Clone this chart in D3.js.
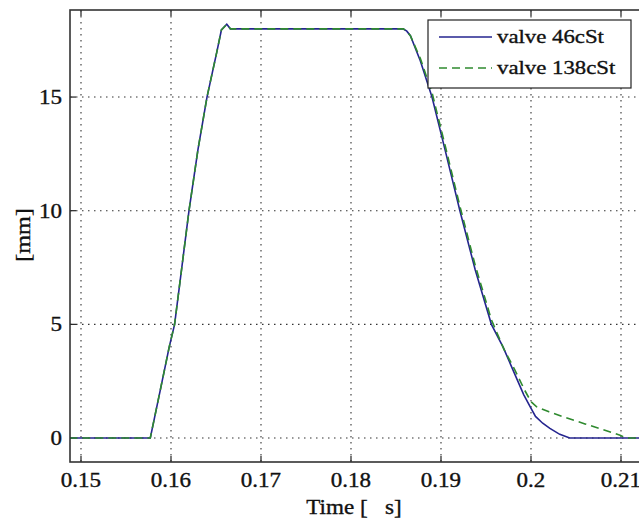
<!DOCTYPE html>
<html>
<head>
<meta charset="utf-8">
<script src="https://cdn.jsdelivr.net/npm/d3@7"></script>
<style>
  body { margin: 0; background: #fff; }
  svg { display: block; }
  text { font-family: "Liberation Serif", "Times New Roman", serif; fill: #111; stroke: #111; stroke-width: 0.35; white-space: pre; }
</style>
</head>
<body>
<svg width="639" height="520"></svg>
<script>
const xTicks = [0.15, 0.16, 0.17, 0.18, 0.19, 0.2, 0.21];
const yTicks = [0, 5, 10, 15];
const seriesNames = ["valve 46cSt", "valve 138cSt"];

const time46 = [0.1487, 0.1577, 0.1587, 0.1598, 0.1604, 0.1612, 0.1620, 0.1630, 0.1640, 0.1651, 0.1656, 0.1662, 0.1666, 0.1670,
  0.1858, 0.1862, 0.1866, 0.1877, 0.1890, 0.1905, 0.1921, 0.1938, 0.1956, 0.1969, 0.1981, 0.1992, 0.1999,
  0.2005, 0.2013, 0.2021, 0.2032, 0.2043, 0.2125];
const valve46 = [0, 0, 1.9, 4.0, 5.0, 7.5, 10.0, 12.7, 15.0, 17.0, 17.95, 18.2, 18.0, 18.0,
  18.0, 17.9, 17.7, 16.6, 15.0, 12.6, 10.0, 7.4, 5.0, 4.0, 2.9, 1.9, 1.38,
  0.95, 0.65, 0.42, 0.16, 0, 0];

const time138 = [0.1487, 0.1577, 0.1587, 0.1598, 0.1604, 0.1612, 0.1620, 0.1630, 0.1640, 0.1651, 0.1656, 0.1662, 0.1666, 0.1670,
  0.1858, 0.1862, 0.1866, 0.1877, 0.1890, 0.1905, 0.1921, 0.1938, 0.1956, 0.1970, 0.1982, 0.1993, 0.2000,
  0.2006, 0.2020, 0.2040, 0.2060, 0.2080, 0.2099, 0.2106, 0.2125];
const valve138 = [0, 0, 1.9, 4.0, 5.0, 7.5, 10.0, 12.7, 15.0, 17.0, 17.95, 18.2, 18.0, 18.0,
  18.0, 17.9, 17.7, 16.7, 15.2, 12.8, 10.2, 7.6, 5.2, 3.9, 3.0, 2.1, 1.6,
  1.38, 1.15, 0.88, 0.62, 0.37, 0.12, 0, 0];

const svg = d3.select("svg");
const plotLeft = 70, plotRight = 646, plotTop = 10, plotBottom = 462;

const x = d3.scaleLinear().domain([0.148778, 0.212778]).range([plotLeft, plotRight]);
const y = d3.scaleLinear().domain([-1.056, 18.83]).range([plotBottom, plotTop]);

// stretched serif text like the original export
function label(g, px, py, str, size, anchor, sx) {
  return g.append("text")
    .attr("transform", `translate(${px},${py}) scale(${sx},1)`)
    .attr("text-anchor", anchor)
    .style("font-size", size + "px")
    .text(str);
}

svg.append("defs").append("clipPath").attr("id", "clip")
  .append("rect").attr("x", plotLeft).attr("y", plotTop)
  .attr("width", plotRight - plotLeft).attr("height", plotBottom - plotTop);

// grid
const grid = svg.append("g").attr("stroke", "#333").attr("stroke-width", 1.1).attr("stroke-dasharray", "1.5,4.5");
grid.selectAll(".gx").data(xTicks).join("line")
  .attr("x1", d => x(d)).attr("x2", d => x(d)).attr("y1", plotTop).attr("y2", plotBottom);
grid.selectAll(".gy").data(yTicks).join("line")
  .attr("x1", plotLeft).attr("x2", plotRight).attr("y1", d => y(d)).attr("y2", d => y(d));

// ticks inside
const ticks = svg.append("g").attr("stroke", "#222").attr("stroke-width", 1.2);
xTicks.forEach(t => {
  ticks.append("line").attr("x1", x(t)).attr("x2", x(t)).attr("y1", plotBottom).attr("y2", plotBottom - 6);
  ticks.append("line").attr("x1", x(t)).attr("x2", x(t)).attr("y1", plotTop).attr("y2", plotTop + 6);
});
yTicks.forEach(t => {
  ticks.append("line").attr("x1", plotLeft).attr("x2", plotLeft + 6).attr("y1", y(t)).attr("y2", y(t));
});

// data lines
const line = d3.line().x(d => x(d[0])).y(d => y(d[1]));
const plot = svg.append("g").attr("clip-path", "url(#clip)");
plot.append("path")
  .datum(d3.zip(time46, valve46))
  .attr("fill", "none").attr("stroke", "#25258f").attr("stroke-width", 1.6)
  .attr("d", line);
plot.append("path")
  .datum(d3.zip(time138, valve138))
  .attr("fill", "none").attr("stroke", "#2f8a2f").attr("stroke-width", 1.6)
  .attr("stroke-dasharray", "8,5")
  .attr("d", line);

// frame
svg.append("rect")
  .attr("x", plotLeft).attr("y", plotTop).attr("width", plotRight - plotLeft).attr("height", plotBottom - plotTop)
  .attr("fill", "none").attr("stroke", "#333").attr("stroke-width", 1.6);

// tick labels
const labels = svg.append("g");
xTicks.forEach(t => label(labels, x(t), 487, d3.format("")(t), 20, "middle", 1.15));
yTicks.forEach(t => label(labels, 62, y(t) + 7, String(t), 20, "end", 1.15));

label(labels, 354, 514, "Time [   s]", 21, "middle", 1.1);
labels.append("text")
  .attr("transform", "translate(30,235) rotate(-90) scale(1.15,1)")
  .attr("text-anchor", "middle")
  .style("font-size", "21px")
  .text("[mm]");

// legend
const legend = svg.append("g");
legend.append("rect")
  .attr("x", 428).attr("y", 20).attr("width", 203).attr("height", 68)
  .attr("fill", "#fff").attr("stroke", "#222").attr("stroke-width", 1.2);
const legendColors = ["#25258f", "#2f8a2f"];
const legendDash = [null, "8,5"];
seriesNames.forEach((name, i) => {
  const ly = 37 + i * 31;
  legend.append("line")
    .attr("x1", 439).attr("x2", 492).attr("y1", ly).attr("y2", ly)
    .attr("stroke", legendColors[i]).attr("stroke-width", 1.6)
    .attr("stroke-dasharray", legendDash[i]);
  label(legend, 497, ly + 6, name, 19, "start", 1.2);
});
</script>
</body>
</html>
